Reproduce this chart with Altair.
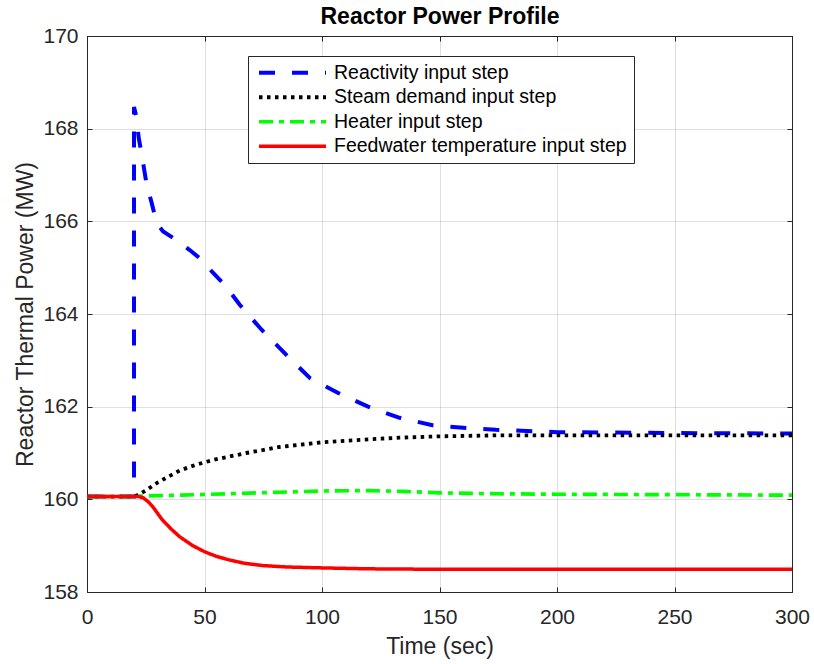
import altair as alt
import pandas as pd

series = ["Reactivity input step", "Steam demand input step",
          "Heater input step", "Feedwater temperature input step"]
colors = ["#0000FF", "#000000", "#00FF00", "#FF0000"]
dashes = [[16, 17], [3.5, 4.5], [14, 6, 5, 6], [1, 0]]
widths = [4, 3.5, 3.5, 4]

x_ticks = [0, 50, 100, 150, 200, 250, 300]
y_ticks = [158, 160, 162, 164, 166, 168, 170]

react_t = [0, 20, 20, 21, 22, 23.1, 25.3, 27.4, 28.8, 30.5, 32.4, 38, 43.7, 48.8,
           53.6, 58.6, 65, 74.3, 84, 94.8, 106.7, 119.6, 133, 147, 161.5, 174,
           200, 250, 300]
react_v = [160.06, 160.06, 168.47, 168.26, 167.8, 167.5, 166.82, 166.42, 166.14,
           165.9, 165.78, 165.6, 165.38, 165.17, 164.89, 164.63, 164.2, 163.66,
           163.16, 162.62, 162.3, 162.0, 161.76, 161.6, 161.54, 161.5,
           161.45, 161.43, 161.42]

steam_t = [0, 20, 22, 25.3, 30, 35, 39.4, 46, 53.6, 67.8, 82, 100, 121.7, 133,
           150, 174, 200, 250, 300]
steam_v = [160.06, 160.06, 160.1, 160.2, 160.36, 160.5, 160.62, 160.74, 160.85,
           161.0, 161.13, 161.23, 161.3, 161.33, 161.36, 161.38, 161.38, 161.38,
           161.38]

heater_t = [0, 20, 22, 30, 40, 60, 80, 100, 120, 135, 150, 175, 200, 250, 300]
heater_v = [160.06, 160.06, 160.07, 160.08, 160.09, 160.12, 160.15, 160.18,
            160.19, 160.17, 160.14, 160.12, 160.11, 160.1, 160.09]

feed_t = [0, 22, 24, 26, 28, 32, 36, 39.5, 45, 50, 55, 60.7, 67, 74.8, 85, 100,
          120, 150, 200, 300]
feed_v = [160.06, 160.06, 160.03, 159.95, 159.84, 159.56, 159.35, 159.19, 159.0,
          158.87, 158.77, 158.69, 158.62, 158.57, 158.54, 158.52, 158.5, 158.49,
          158.49, 158.49]

rows = []
for name, ts, vs in zip(series, [react_t, steam_t, heater_t, feed_t],
                        [react_v, steam_v, heater_v, feed_v]):
    for i, (t, v) in enumerate(zip(ts, vs)):
        rows.append({"series": name, "t": t, "v": v, "i": i})
df = pd.DataFrame(rows)

font = "Liberation Sans"
ax_color = "#262626"

x_scale = alt.Scale(domain=[0, 300], nice=False, zero=False)
y_scale = alt.Scale(domain=[158, 170], nice=False, zero=False)

legend = alt.Legend(
    orient="none", legendX=161, legendY=20, direction="vertical",
    fillColor="white", strokeColor=ax_color, padding=7, cornerRadius=0,
    labelFont=font, labelFontSize=19.5, labelColor="#000000", labelLimit=600,
    labelOffset=6, rowPadding=3.5, symbolType="stroke", symbolSize=4489,
    symbolStrokeWidth=3.5, clipHeight=19.5, symbolOffset=2,
)

x_axis = alt.Axis(
    orient="bottom", values=x_ticks, offset=-5, tickSize=5, domain=False,
    grid=True, gridColor=ax_color, gridOpacity=0.15, tickColor=ax_color,
    labelFont=font, labelFontSize=21, labelColor=ax_color, labelPadding=14,
    labelFlush=False, titleFont=font, titleFontSize=23, titleFontWeight="normal",
    titleColor=ax_color, titlePadding=8,
)
y_axis = alt.Axis(
    orient="left", values=y_ticks, offset=-5, tickSize=5, domain=False,
    grid=True, gridColor=ax_color, gridOpacity=0.15, tickColor=ax_color,
    labelFont=font, labelFontSize=21, labelColor=ax_color, labelPadding=9,
    labelFlush=False, titleFont=font, titleFontSize=23, titleFontWeight="normal",
    titleColor=ax_color, titlePadding=5,
)

lines = alt.Chart(df).mark_line(strokeCap="butt").encode(
    x=alt.X("t:Q", scale=x_scale, axis=x_axis, title="Time (sec)"),
    y=alt.Y("v:Q", scale=y_scale, axis=y_axis, title="Reactor Thermal Power (MW)"),
    color=alt.Color("series:N", scale=alt.Scale(domain=series, range=colors),
                    legend=legend, title=None),
    strokeDash=alt.StrokeDash("series:N", scale=alt.Scale(domain=series, range=dashes),
                              legend=legend, title=None),
    strokeWidth=alt.StrokeWidth("series:N", scale=alt.Scale(domain=series, range=widths),
                                legend=None),
    order="i:Q",
)

# top / right axes: inward ticks only; the top axis carries the chart title
frame = alt.Chart(df).mark_line(opacity=0).encode(
    x=alt.X("t:Q", scale=x_scale, title="Reactor Power Profile",
            axis=alt.Axis(orient="top", values=x_ticks, labels=False, offset=-5,
                          tickSize=5, domain=False, grid=False, tickColor=ax_color,
                          titleFont=font, titleFontSize=23, titleFontWeight="bold",
                          titleColor="#000000", titlePadding=7)),
    y=alt.Y("v:Q", scale=y_scale, title=None,
            axis=alt.Axis(orient="right", values=y_ticks, labels=False, offset=-5,
                          tickSize=5, domain=False, grid=False, tickColor=ax_color)),
    detail="series:N",
    order="i:Q",
)

chart = alt.layer(lines, frame).resolve_axis(
    x="independent", y="independent"
).properties(
    width=705,
    height=556,
    padding={"left": 87, "top": 36, "right": 22, "bottom": 72},
    autosize=alt.AutoSizeParams(type="none"),
).configure_view(stroke=ax_color, strokeWidth=1)

chart.save("out.html", embed_options={"renderer": "svg", "actions": False})
